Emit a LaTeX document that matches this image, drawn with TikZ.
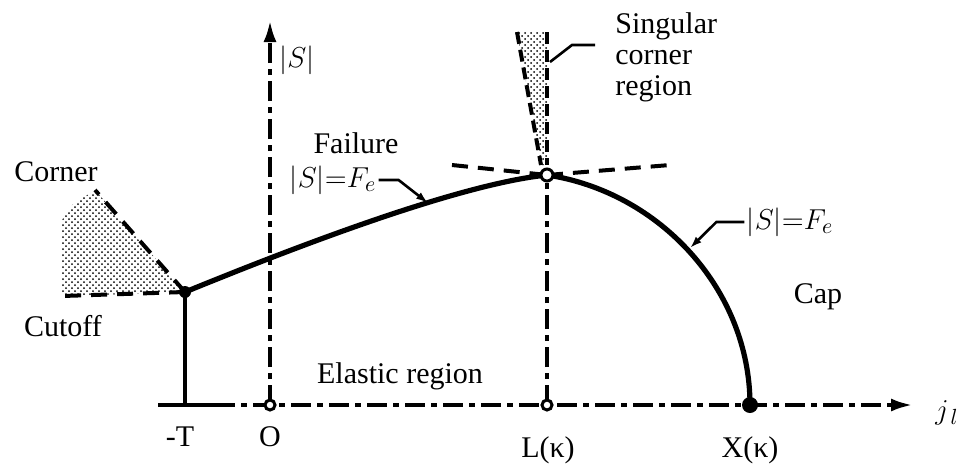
\documentclass[tikz,border=0pt]{standalone}
\usepackage{fontspec}
\setmainfont{Liberation Serif}
\usetikzlibrary{arrows.meta,patterns,positioning}

\tikzset{
  axisline/.style={line width=2pt,dash pattern=on 10pt off 3pt on 3pt off 3pt},
  yieldline/.style={line width=2.6pt},
  tangentline/.style={line width=2pt,dash pattern=on 8pt off 5pt},
  leader/.style={line width=1.3pt,-{Latex[length=6pt,width=4pt]}},
  opendot/.style={circle,draw,fill=white,line width=1.5pt,inner sep=0pt,minimum size=#1},
  fulldot/.style={circle,fill,inner sep=0pt,minimum size=#1},
  lbl/.style={font=\fontsize{15}{15.5}\selectfont,inner sep=1pt},
}

\begin{document}
\begin{tikzpicture}[x=0.5pt,y=-0.5pt,>=Latex]
  \useasboundingbox (0,0) rectangle (963,468);
  % axes
  \coordinate (start) at (158,405);
  \coordinate (mT) at (185,405);
  \coordinate (split) at (215,405);
  \coordinate (xend) at (913,405);
  \coordinate (ytop) at (270,20);
  \coordinate (laxis) at (547,405);
  \coordinate (cpt) at (185,292);
  \coordinate (lpt) at (547,175);
  \coordinate (xpt) at (750,405);
  \draw[line width=2pt] (start) -- (split);
  \draw[axisline,-{Latex[length=11pt,width=6.5pt]}] (split) -- (xend);
  \draw[axisline,-{Latex[length=11pt,width=6.5pt]}] (270,405) -- (ytop);
  \draw[axisline] (laxis) -- (lpt);
  \draw[line width=2pt] (mT) -- (cpt);
  % corner region
  \coordinate (ctop) at (95,190);
  \coordinate (cleft) at (62,296);
  \fill[pattern=crosshatch dots] (cleft) -- (62,220) -- (72,205) -- (ctop) -- (cpt) -- cycle;
  \draw[tangentline] (cpt) -- (ctop);
  \draw[tangentline] (cpt) -- (cleft);
  % singular corner region
  \coordinate (stl) at (517,32);
  \coordinate (str) at (547,32);
  \fill[pattern=crosshatch dots] (stl) -- (str) -- (547,165) -- (541,165) -- cycle;
  \draw[tangentline,dash pattern=on 6pt off 3pt] (stl) -- (541,165);
  \draw[tangentline,dash pattern=on 6pt off 3pt] (str) -- (547,165);
  % tangents at the singular corner
  \draw[tangentline] (452,165) -- (lpt);
  \draw[tangentline] (lpt) -- (670,165);
  % yield surface
  \draw[yieldline] (cpt) .. controls (300,245) and (460,184) .. (lpt);
  \draw[yieldline] (lpt) .. controls (660,192) and (750,290) .. (xpt);
  % points
  \node[fulldot=6pt] (corner) at (cpt) {};
  \node[opendot=6pt] (lnode) at (lpt) {};
  \node[opendot=5pt] (orig) at (270,405) {};
  \node[opendot=5pt] (lbase) at (laxis) {};
  \node[fulldot=8pt] (xnode) at (xpt) {};
  % labels
  \node[lbl] (cornerlbl) at (56,172) {Corner};
  \node[lbl] (cutofflbl) at (63,326) {Cutoff};
  \node[lbl] (failurelbl) at (356,143) {Failure};
  \node[lbl] (slbl) at (297,60) {$|S|$};
  \node[lbl] (capslbl) at (818,297) {Cap};
  \node[lbl] (elasticlbl) at (400,376) {Elastic region};
  \node[lbl,align=left,anchor=west] (singlbl) at (613,57) {Singular\\corner\\region};
  \node[lbl] (fe1) at (333,180) {$|S|{=}F_e$};
  \node[lbl] (fe2) at (790,222) {$|S|{=}F_e$};
  \node[lbl] (jl) at (947,413) {$j_{\,l}$};
  \node[lbl] (mTlbl) at (180,437) {-T};
  \node[lbl] (olbl) at (270,437) {O};
  \node[lbl] (llbl) at (548,450) {L(κ)};
  \node[lbl] (xlbl) at (750,450) {X(κ)};
  % leaders
  \coordinate (sgl) at (595,45);
  \draw[leader] (fe1.east) -- ++(20,0) -- (428,203);
  \draw[leader] (fe2.west) -- ++(-28,0) -- (690,248);
  \draw[line width=1.3pt] (sgl) -- (572,45) -- (550,62);
\end{tikzpicture}
\end{document}
